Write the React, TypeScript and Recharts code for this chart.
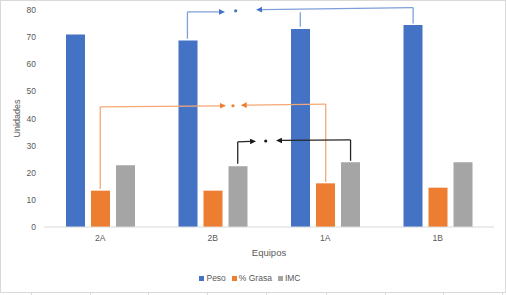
import React from 'react';
import { ComposedChart, Bar, XAxis, YAxis, Legend, ReferenceLine, ReferenceDot } from 'recharts';

const categories = ['2A', '2B', '1A', '1B'];
const peso = [71, 68.8, 73, 74.5];
const grasa = [13.4, 13.4, 16.1, 14.5];
const imc = [22.8, 22.4, 23.9, 23.9];
const yTicks = [0, 10, 20, 30, 40, 50, 60, 70, 80];
const seriesNames = ['Peso', '% Grasa', 'IMC'];

// pos: centre of each category on the hidden numeric axis used for the annotations
const data = categories.map((c, i) => ({ equipo: c, pos: i + 0.5, peso: peso[i], grasa: grasa[i], imc: imc[i] }));

// Significance brackets, placed on a hidden numeric axis where category i is centred at i + 0.5.
type Pt = [number, number];
type Path = { pts: Pt[]; arrow: boolean };
type Note = { head: string; line: string; dot: Pt; paths: Path[] };

const blueNote: Note = {
  head: '#4472C4',
  line: '#7E9FDA',
  dot: [1.704, 79.7],
  paths: [
    { pts: [[1.275, 69.4], [1.275, 79.3], [1.609, 79.3]], arrow: true },
    { pts: [[3.281, 75.0], [3.281, 80.9], [1.885, 80.1]], arrow: true },
    { pts: [[2.278, 73.8], [2.278, 79.2]], arrow: false },
  ],
};
const orangeNote: Note = {
  head: '#ED7D31',
  line: '#F4A875',
  dot: [1.68, 44.7],
  paths: [
    { pts: [[0.5, 14.0], [0.5, 44.3], [1.618, 44.7]], arrow: true },
    { pts: [[2.504, 16.6], [2.504, 45.3], [1.749, 44.9]], arrow: true },
  ],
};
const blackNote: Note = {
  head: '#1a1a1a',
  line: '#262626',
  dot: [1.971, 31.7],
  paths: [
    { pts: [[1.722, 23.3], [1.722, 31.4], [1.885, 31.6]], arrow: true },
    { pts: [[2.725, 24.4], [2.725, 32.1], [2.062, 31.9]], arrow: true },
  ],
};
const notes = [blueNote, orangeNote, blackNote];

const FONT = '"Liberation Sans", Arial, sans-serif';
const TEXT = '#595959';

const makeShape = (line: string, head: string, arrow: boolean) => (props: any) => {
  const { x1, y1, x2, y2 } = props;
  const dx = x2 - x1;
  const dy = y2 - y1;
  const len = Math.sqrt(dx * dx + dy * dy) || 1;
  const ux = dx / len;
  const uy = dy / len;
  const L = 6;
  const W = 2.8;
  if (!arrow) {
    return <line x1={x1} y1={y1} x2={x2} y2={y2} stroke={line} strokeWidth={1.3} />;
  }
  const bx = x2 - ux * L;
  const by = y2 - uy * L;
  const pts = `${x2},${y2} ${bx - uy * W},${by + ux * W} ${bx + uy * W},${by - ux * W}`;
  return (
    <g>
      <line x1={x1} y1={y1} x2={bx} y2={by} stroke={line} strokeWidth={1.3} />
      <polygon points={pts} fill={head} />
    </g>
  );
};

const renderNotes = () => {
  const out: React.ReactNode[] = [];
  notes.forEach((n, ni) => {
    n.paths.forEach((p, pi) => {
      for (let k = 0; k < p.pts.length - 1; k++) {
        const isLast = k === p.pts.length - 2;
        out.push(
          <ReferenceLine
            key={`n${ni}p${pi}s${k}`}
            xAxisId="n"
            ifOverflow="visible"
            segment={[
              { x: p.pts[k][0], y: p.pts[k][1] },
              { x: p.pts[k + 1][0], y: p.pts[k + 1][1] },
            ]}
            shape={makeShape(n.line, n.head, p.arrow && isLast)}
          />
        );
      }
    });
    out.push(
      <ReferenceDot
        key={`d${ni}`}
        xAxisId="n"
        ifOverflow="visible"
        x={n.dot[0]}
        y={n.dot[1]}
        r={1.6}
        fill={n.head}
        stroke="none"
      />
    );
  });
  return out;
};

const renderLegend = (props: any) => {
  const items = [...(props.payload || [])].sort(
    (a: any, b: any) => seriesNames.indexOf(a.value) - seriesNames.indexOf(b.value)
  );
  return (
    <div style={{ display: 'flex', justifyContent: 'center', alignItems: 'center', fontSize: 8.5, fontFamily: FONT, color: TEXT, lineHeight: '10px' }}>
      {items.map((it: any) => (
        <div key={it.value} style={{ display: 'flex', alignItems: 'center', marginRight: 6 }}>
          <span style={{ display: 'inline-block', width: 5, height: 5, background: it.color, marginRight: 2 }} />
          <span>{it.value}</span>
        </div>
      ))}
    </div>
  );
};

const sheetTicks = [31, 90, 148, 207, 266, 326, 385, 443, 502];

export default function App() {
  return (
    <div style={{ position: 'absolute', left: 0, top: 0, width: 506, height: 295, background: '#fff', fontFamily: FONT }}>
      <div
        style={{
          position: 'absolute',
          left: 0,
          top: 0,
          width: 506,
          height: 293,
          boxSizing: 'border-box',
          border: '1px solid #D9D9D9',
        }}
      />
      {sheetTicks.map((x) => (
        <div key={x} style={{ position: 'absolute', left: x, top: 293, width: 1, height: 2, background: '#D9D9D9' }} />
      ))}
      <div style={{ position: 'absolute', left: 0, top: 0 }}>
        <ComposedChart
          width={506}
          height={295}
          data={data}
          margin={{ top: 10, right: 12, bottom: 28, left: 0 }}
          barSize={19}
          barGap={6}
        >
          <XAxis
            dataKey="equipo"
            height={40}
            axisLine={{ stroke: '#D9D9D9' }}
            tickLine={false}
            tickSize={0}
            tickMargin={8}
            tick={{ fill: TEXT, fontSize: 8.5, fontFamily: FONT }}
            label={{
              content: (p: any) => {
                const vb = p.viewBox || { x: 44, y: 227, width: 450 };
                return (
                  <text
                    x={vb.x + vb.width / 2}
                    y={vb.y + 28.5}
                    textAnchor="middle"
                    fill={TEXT}
                    fontSize={9.5}
                    fontFamily={FONT}
                  >
                    Equipos
                  </text>
                );
              },
            }}
          />
          <XAxis xAxisId="n" dataKey="pos" type="number" domain={[0, 4]} allowDataOverflow hide />
          <YAxis
            domain={[0, 80]}
            ticks={yTicks}
            width={44}
            axisLine={false}
            tickLine={false}
            tickSize={0}
            tickMargin={8}
            tick={{ fill: TEXT, fontSize: 8.5, fontFamily: FONT }}
            label={{
              content: (p: any) => {
                const vb = p.viewBox || { x: 0, y: 10, height: 217 };
                const cx = vb.x + 20;
                const cy = vb.y + vb.height / 2;
                return (
                  <text
                    x={cx}
                    y={cy}
                    transform={`rotate(-90 ${cx} ${cy})`}
                    textAnchor="middle"
                    fill={TEXT}
                    fontSize={9}
                    fontFamily={FONT}
                  >
                    Unidades
                  </text>
                );
              },
            }}
          />
          <Legend
            verticalAlign="middle"
            align="center"
            content={renderLegend}
            wrapperStyle={{ top: 273, left: 0, width: 506 }}
          />
          <Bar dataKey="peso" name="Peso" fill="#4472C4" isAnimationActive={false} />
          <Bar dataKey="grasa" name="% Grasa" fill="#ED7D31" isAnimationActive={false} />
          <Bar dataKey="imc" name="IMC" fill="#A5A5A5" isAnimationActive={false} />
          {renderNotes()}
        </ComposedChart>
      </div>
    </div>
  );
}
